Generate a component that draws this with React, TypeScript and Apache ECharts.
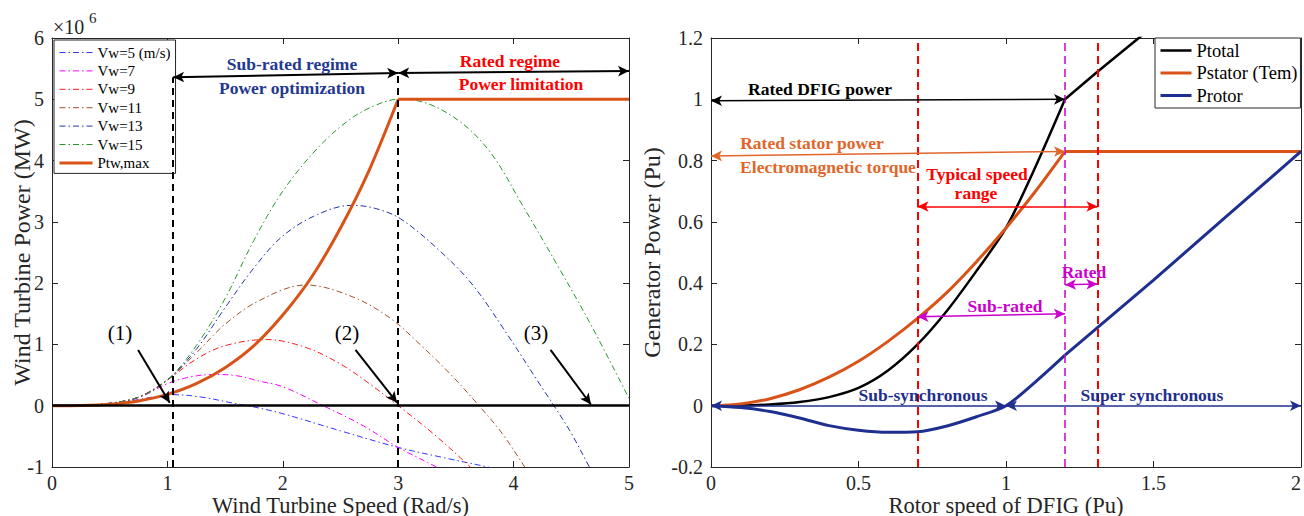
import React, { useEffect, useRef } from 'react';
import * as echarts from 'echarts';

const FONT = '"Liberation Serif", "Times New Roman", serif';
const INK = '#262626';

// ---------- Left panel: wind turbine power curves [speed (rad/s), power (x10^6 W)] ----------
const vw5Curve = [[0, 0], [0.25, 0.004], [0.5, 0.035], [0.75, 0.1], [0.9, 0.15], [1.05, 0.18], [1.3, 0.14], [1.6, 0.03], [1.75, -0.02], [2.0, -0.13], [2.5, -0.41], [3.0, -0.68], [3.4, -0.85], [3.8, -1.01], [4.0, -1.1]];
const vw7Curve = [[0, 0], [0.25, 0.004], [0.5, 0.038], [0.75, 0.13], [1.0, 0.36], [1.2, 0.47], [1.4, 0.51], [1.6, 0.49], [1.8, 0.4], [2.0, 0.31], [2.35, 0], [2.7, -0.33], [3.0, -0.68], [3.34, -1.01], [3.5, -1.2]];
const vw9Curve = [[0, 0], [0.25, 0.004], [0.5, 0.04], [0.75, 0.14], [1.0, 0.42], [1.25, 0.76], [1.5, 0.98], [1.86, 1.08], [2.2, 0.95], [2.5, 0.68], [2.75, 0.36], [3.0, 0], [3.3, -0.45], [3.63, -1.01], [3.75, -1.25]];
const vw11Curve = [[0, 0], [0.25, 0.004], [0.5, 0.04], [0.75, 0.14], [1.0, 0.42], [1.25, 0.86], [1.5, 1.33], [1.8, 1.72], [2.2, 1.97], [2.6, 1.78], [2.93, 1.43], [3.2, 0.98], [3.45, 0.52], [3.7, 0], [3.9, -0.45], [4.1, -1.01], [4.2, -1.3]];
const vw13Curve = [[0, 0], [0.25, 0.004], [0.5, 0.04], [0.75, 0.14], [1.0, 0.42], [1.25, 0.92], [1.5, 1.6], [1.75, 2.25], [2.0, 2.77], [2.3, 3.12], [2.6, 3.27], [2.8, 3.22], [3.02, 3.05], [3.37, 2.51], [3.65, 1.96], [3.95, 1.15], [4.23, 0.34], [4.35, 0], [4.5, -0.45], [4.66, -1.01], [4.75, -1.3]];
const vw15Curve = [[0, 0], [0.25, 0.004], [0.5, 0.04], [0.75, 0.14], [1.0, 0.42], [1.25, 0.98], [1.5, 1.75], [1.75, 2.7], [2.0, 3.5], [2.3, 4.2], [2.58, 4.67], [2.8, 4.9], [3.0, 5.0], [3.16, 4.98], [3.51, 4.67], [3.8, 4.13], [4.08, 3.26], [4.38, 2.29], [4.67, 1.32], [5.0, 0.12]];
const ptwMaxRise = [[0, 0], [0.25, 0.003], [0.5, 0.023], [0.75, 0.078], [1.0, 0.185], [1.25, 0.36], [1.5, 0.62], [1.75, 0.98], [2.0, 1.48], [2.25, 2.1], [2.5, 2.9], [2.75, 3.85], [3.0, 5.0]];
const ptwMaxFlat = [[3.0, 5.0], [5.0, 5.0]];

// ---------- Right panel: DFIG powers [rotor speed (pu), power (pu)] ----------
const ptotalRise = [[0, 0], [0.1, 0.0005], [0.2, 0.004], [0.3, 0.012], [0.4, 0.028], [0.5, 0.058], [0.6, 0.115], [0.7, 0.2], [0.8, 0.31], [0.9, 0.44], [1.0, 0.58], [1.1, 0.78], [1.2, 1.0]];
const ptotalLinear = [[1.2, 1.0], [1.31, 1.09], [1.45, 1.2], [1.5, 1.24]];
const pstatorRise = [[0, 0], [0.1, 0.006], [0.2, 0.023], [0.3, 0.052], [0.4, 0.093], [0.5, 0.145], [0.6, 0.21], [0.7, 0.285], [0.8, 0.37], [0.9, 0.47], [1.0, 0.58], [1.1, 0.7], [1.2, 0.83]];
const pstatorFlat = [[1.2, 0.83], [2.0, 0.83]];
const protorSub = [[0, 0], [0.1, -0.006], [0.2, -0.019], [0.3, -0.04], [0.4, -0.065], [0.5, -0.08], [0.6, -0.087], [0.7, -0.085], [0.8, -0.066], [0.9, -0.036], [1.0, 0], [1.1, 0.078], [1.2, 0.165]];
const protorSuper = [[1.2, 0.165], [1.31, 0.255], [1.5, 0.41], [1.75, 0.62], [2.0, 0.83]];

const leftLegendNames = ['Vw=5 (m/s)', 'Vw=7', 'Vw=9', 'Vw=11', 'Vw=13', 'Vw=15', 'Ptw,max'];
const rightLegendNames = ['Ptotal', 'Pstator (Tem)', 'Protor'];

const C = {
  vw5: '#3535ff', vw7: '#ff00ff', vw9: '#ff1a1a', vw11: '#a0522d', vw13: '#2233aa', vw15: '#2a952a',
  orange: '#d95319', navy: '#1f2f8f', red: '#ff0000', magenta: '#cc00cc', textNavy: '#23398f', textOrange: '#e0662a',
};

const DASHDOT = [6, 3, 1.5, 3];

function curve(name: string, data: number[][], color: string, width: number, dash: any, xi: number, yi: number, smooth: number | boolean = 0.35) {
  return {
    type: 'line', name, data, xAxisIndex: xi, yAxisIndex: yi, symbol: 'none', showSymbol: false, smooth,
    lineStyle: { color, width, type: dash }, itemStyle: { color }, silent: true, z: 3,
  };
}

function arrow(p1: number[], p2: number[], color: string, width: number, both: boolean, size = [8, 11]) {
  return [
    { coord: p1, symbol: both ? 'arrow' : 'none', symbolSize: size, lineStyle: { color, width, type: 'solid' }, itemStyle: { color } },
    { coord: p2, symbol: 'arrow', symbolSize: size, lineStyle: { color, width, type: 'solid' }, itemStyle: { color } },
  ];
}

function vline(x: number, y1: number, y2: number, color: string, width: number, dash: number[]) {
  return [
    { coord: [x, y1], symbol: 'none', lineStyle: { color, width, type: dash } },
    { coord: [x, y2], symbol: 'none', lineStyle: { color, width, type: dash } },
  ];
}

function helper(xi: number, yi: number, items: any[]) {
  return {
    type: 'line', name: '_helper' + xi, data: [[0, 0]], xAxisIndex: xi, yAxisIndex: yi, symbol: 'none',
    lineStyle: { opacity: 0 }, silent: true, z: 4,
    markLine: { silent: true, animation: false, label: { show: false }, emphasis: { disabled: true }, precision: 4, data: items },
  };
}

function label(text: string, x: number, y: number, color: string, size = 17.5, bold = true) {
  return {
    type: 'text', x, y, z: 100,
    style: { text, fill: color, font: `${bold ? 'bold ' : ''}${size}px ${FONT}`, align: 'center', verticalAlign: 'middle' },
  };
}

const axisCommon = {
  axisLine: { show: true, onZero: false, lineStyle: { color: INK, width: 1 } },
  axisTick: { show: true, inside: true, length: 6, lineStyle: { color: INK } },
  splitLine: { show: false },
};

function mainX(grid: number, min: number, max: number, interval: number, name: string, alignMax?: string) {
  return {
    type: 'value', gridIndex: grid, position: 'bottom', min, max, interval, name, nameLocation: 'middle', nameGap: 27,
    nameMoveOverlap: false,
    nameTextStyle: { fontFamily: FONT, fontSize: 22.5, lineHeight: 22, color: INK },
    axisLabel: { fontFamily: FONT, fontSize: 20, lineHeight: 20, color: INK, margin: 6, ...(alignMax ? { alignMaxLabel: alignMax } : {}) },
    ...axisCommon,
  };
}
function mainY(grid: number, min: number, max: number, interval: number, name: string, gap: number) {
  return {
    type: 'value', gridIndex: grid, position: 'left', min, max, interval, name, nameLocation: 'middle', nameGap: gap,
    nameMoveOverlap: false,
    nameTextStyle: { fontFamily: FONT, fontSize: 24, color: INK },
    axisLabel: { fontFamily: FONT, fontSize: 20, color: INK, margin: 8 }, ...axisCommon,
  };
}
function frameX(grid: number, min: number, max: number, interval: number) {
  return { type: 'value', gridIndex: grid, position: 'top', min, max, interval, axisLabel: { show: false }, ...axisCommon };
}
function frameY(grid: number, min: number, max: number, interval: number) {
  return { type: 'value', gridIndex: grid, position: 'right', min, max, interval, axisLabel: { show: false }, ...axisCommon };
}

export default function App() {
  const ref = useRef<HTMLDivElement>(null);
  useEffect(() => {
    document.body.style.margin = '0';
    const chart = echarts.init(ref.current as HTMLDivElement, null, { renderer: 'svg' });
    const legendCommon = {
      orient: 'vertical', selectedMode: false, backgroundColor: '#ffffff', borderColor: INK, borderWidth: 1, borderRadius: 0,
      itemStyle: { opacity: 0 }, lineStyle: { width: 'inherit' },
    };
    const option: any = {
      animation: false,
      backgroundColor: '#ffffff',
      grid: [
        { left: 52, top: 38, width: 577, height: 429, outerBoundsMode: 'none', containLabel: false },
        { left: 711, top: 38, width: 590, height: 429, outerBoundsMode: 'none', containLabel: false },
      ],
      xAxis: [
        mainX(0, 0, 5, 1, 'Wind Turbine Speed (Rad/s)'),
        mainX(1, 0, 2, 0.5, 'Rotor speed of DFIG (Pu)', 'right'),
        frameX(0, 0, 5, 1),
        frameX(1, 0, 2, 0.5),
      ],
      yAxis: [
        mainY(0, -1, 6, 1, 'Wind Turbine Power (MW)', 18),
        mainY(1, -0.2, 1.2, 0.2, 'Generator Power (Pu)', 47),
        frameY(0, -1, 6, 1),
        frameY(1, -0.2, 1.2, 0.2),
      ],
      legend: [
        {
          ...legendCommon,
          data: leftLegendNames, left: 54, top: 40, padding: [5, 5, 3, 4],
          itemWidth: 33, itemHeight: 15, itemGap: 3.4,
          textStyle: { fontFamily: FONT, fontSize: 15, lineHeight: 15, color: '#000' },
        },
        {
          ...legendCommon,
          data: rightLegendNames, left: 1155, top: 38, padding: [3, 3, 3, 4],
          itemWidth: 31, itemHeight: 18.5, itemGap: 3.5,
          textStyle: { fontFamily: FONT, fontSize: 18.5, lineHeight: 18.5, color: '#000' },
        },
      ],
      series: [
        helper(0, 0, [
          vline(1.05, -1, 5.36, '#000', 2, [7, 5]),
          vline(3.0, -1, 5.43, '#000', 2, [7, 5]),
          [{ coord: [0, 0], symbol: 'none', lineStyle: { color: '#000', width: 2.5, type: 'solid' } }, { coord: [5, 0], symbol: 'none', lineStyle: { color: '#000', width: 2.5, type: 'solid' } }],
        ]),
        curve('Vw=5 (m/s)', vw5Curve, C.vw5, 1, DASHDOT, 0, 0),
        curve('Vw=7', vw7Curve, C.vw7, 1, DASHDOT, 0, 0),
        curve('Vw=9', vw9Curve, C.vw9, 1, DASHDOT, 0, 0),
        curve('Vw=11', vw11Curve, C.vw11, 1, DASHDOT, 0, 0),
        curve('Vw=13', vw13Curve, C.vw13, 1, DASHDOT, 0, 0),
        curve('Vw=15', vw15Curve, C.vw15, 1, DASHDOT, 0, 0),
        curve('Ptw,max', ptwMaxRise, C.orange, 3, 'solid', 0, 0, 0.3),
        curve('Ptw,max', ptwMaxFlat, C.orange, 3, 'solid', 0, 0, false),
        helper(0, 0, [
          arrow([1.05, 5.36], [3.0, 5.43], '#000', 2, true),
          arrow([3.0, 5.43], [5.0, 5.46], '#000', 2, true),
          arrow([0.746, 0.91], [1.02, 0.05], '#000', 2, false),
          arrow([2.63, 0.91], [2.99, 0.05], '#000', 2, false),
          arrow([4.32, 0.91], [4.67, 0.02], '#000', 2, false),
        ]),
        helper(1, 1, [
          vline(0.7, -0.2, 1.2, C.red, 2, [8, 5]),
          vline(1.31, -0.2, 1.2, C.red, 2, [8, 5]),
          vline(1.2, -0.2, 1.2, C.magenta, 1.5, [8, 5]),
        ]),
        curve('Ptotal', ptotalRise, '#000', 2.5, 'solid', 1, 1, 0.3),
        curve('Ptotal', ptotalLinear, '#000', 2.5, 'solid', 1, 1, false),
        curve('Pstator (Tem)', pstatorRise, C.orange, 3, 'solid', 1, 1, 0.3),
        curve('Pstator (Tem)', pstatorFlat, C.orange, 3, 'solid', 1, 1, false),
        curve('Protor', protorSub, C.navy, 3, 'solid', 1, 1, 0.3),
        curve('Protor', protorSuper, C.navy, 3, 'solid', 1, 1, false),
        helper(1, 1, [
          arrow([0, 0.995], [1.2, 1.0], '#000', 1.5, true),
          arrow([0, 0.815], [1.2, 0.83], C.textOrange, 1.5, true),
          arrow([0.7, 0.65], [1.31, 0.65], C.red, 1.5, true),
          arrow([1.2, 0.395], [1.31, 0.397], C.magenta, 1.5, true),
          arrow([0.7, 0.29], [1.2, 0.3], C.magenta, 1.5, true),
          arrow([0, 0], [1.0, 0], C.navy, 1.5, true),
          arrow([1.0, 0], [2.0, 0], C.navy, 1.5, true),
        ]),
      ],
      graphic: [
        { type: 'text', x: 53, y: 27, z: 100, style: { text: '×10', fill: INK, font: `20px ${FONT}`, align: 'left', verticalAlign: 'middle' } },
        { type: 'text', x: 89, y: 18, z: 100, style: { text: '6', fill: INK, font: `15px ${FONT}`, align: 'left', verticalAlign: 'middle' } },
        label('Sub-rated regime', 292, 64, C.textNavy),
        label('Power optimization', 292, 88, C.textNavy),
        label('Rated regime', 510, 61, C.red),
        label('Power limitation', 521, 84, C.red),
        label('(1)', 120, 333, '#000', 21, false),
        label('(2)', 347, 333, '#000', 21, false),
        label('(3)', 536, 333, '#000', 21, false),
        label('Rated DFIG power', 820, 89, '#000'),
        label('Rated stator power', 812, 143, C.textOrange),
        label('Electromagnetic torque', 828, 167, C.textOrange),
        label('Typical speed', 977, 174, C.red),
        label('range', 976, 193, C.red),
        label('Rated', 1084, 272, C.magenta),
        label('Sub-rated', 1005, 306, C.magenta),
        label('Sub-synchronous', 923, 395, C.navy),
        label('Super synchronous', 1152, 395, C.navy),
      ],
    };
    chart.setOption(option);
    return () => chart.dispose();
  }, []);
  return <div ref={ref} style={{ width: 1304, height: 516 }} />;
}
